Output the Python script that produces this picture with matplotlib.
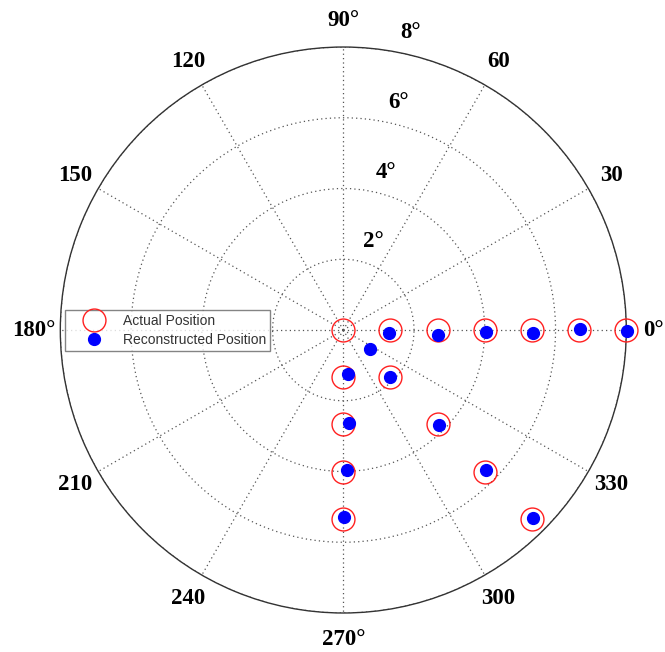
import numpy as np
import matplotlib
matplotlib.use("Agg")
import matplotlib.pyplot as plt
from matplotlib.transforms import offset_copy
from matplotlib.lines import Line2D

# Actual target positions (x, y in degrees of visual field)
act_x = [0.0, 1.333, 2.667, 4.0, 5.333, 6.667, 8.0,
         0.0, 0.0, 0.0, 0.0,
         1.333, 2.667, 4.0, 5.333]
act_y = [0.0, 0.0, 0.0, 0.0, 0.0, 0.0, 0.0,
         -1.333, -2.667, -4.0, -5.333,
         -1.333, -2.667, -4.0, -5.333]

# Reconstructed positions (x, y in degrees)
rec_x = [0.755, 1.30, 2.685, 4.025, 5.354, 6.69, 8.01,
         0.141, 0.153, 0.113, 0.02,
         1.32, 2.705, 4.025, 5.371]
rec_y = [-0.546, -0.076, -0.127, -0.048, -0.076, 0.02, -0.02,
         -1.244, -2.637, -3.958, -5.295,
         -1.32, -2.685, -3.958, -5.323]

theta_ticks = [0, 30, 60, 90, 120, 150, 180, 210, 240, 270, 300, 330]
theta_labels = ["0°", "30", "60", "90°", "120", "150", "180°", "210", "240", "270°", "300", "330"]
r_ticks = [2, 4, 6, 8]
r_labels = ["2°", "4°", "6°", "8°"]
r_max = 8

fig = plt.figure(figsize=(6.65, 6.52), dpi=100)
ax = fig.add_axes([0.0907, 0.0598, 0.8511, 0.8681], projection="polar")
ax.set_ylim(0, r_max)
ax.set_xticks(np.deg2rad(theta_ticks))
ax.set_yticks(r_ticks)
ax.set_xticklabels([])
ax.set_yticklabels([])
ax.tick_params(length=0)
ax.grid(True, linestyle=(0, (1, 2.5)), color="#555555", linewidth=0.9)
ax.spines["polar"].set_color("#333333")
ax.spines["polar"].set_linewidth(1.0)

serif = {"family": ["Liberation Serif", "DejaVu Serif"], "weight": "bold", "size": 16.5}
for t, lab in zip(theta_ticks, theta_labels):
    ax.text(np.deg2rad(t), r_max * 1.095, lab, ha="center", va="center",
            clip_on=False, **serif)

trans = offset_copy(ax.transData, fig=fig, x=18, y=18.5, units="dots")
for r, lab in zip(r_ticks, r_labels):
    ax.text(np.deg2rad(80), r, lab, ha="center", va="center", transform=trans,
            clip_on=False, **serif)

ax_ = np.array(act_x); ay_ = np.array(act_y)
rx_ = np.array(rec_x); ry_ = np.array(rec_y)
act_t = np.arctan2(ay_, ax_); act_r = np.hypot(ax_, ay_)
rec_t = np.arctan2(ry_, rx_); rec_r = np.hypot(rx_, ry_)

ax.plot(act_t, act_r, linestyle="none", marker="o", markersize=16.5,
        markerfacecolor="none", markeredgecolor="#ff2020", markeredgewidth=1.0,
        clip_on=False, zorder=3, label="Actual Position")
ax.plot(rec_t, rec_r, linestyle="none", marker="o", markersize=8.5,
        markerfacecolor="#0000ff", markeredgecolor="#0000ff",
        clip_on=False, zorder=4, label="Reconstructed Position")

handles = [
    Line2D([], [], linestyle="none", marker="o", markersize=16.5,
           markerfacecolor="none", markeredgecolor="#ff2020", markeredgewidth=1.0),
    Line2D([], [], linestyle="none", marker="o", markersize=8.5,
           markerfacecolor="#0000ff", markeredgecolor="#0000ff"),
]
leg = fig.legend(handles, ["Actual Position", "Reconstructed Position"],
                 loc="upper left", bbox_to_anchor=(65 / 665, 1 - 310 / 652),
                 prop={"family": ["Liberation Sans", "DejaVu Sans"], "size": 10},
                 frameon=True, fancybox=False, borderpad=0.3, labelspacing=0.35,
                 handlelength=3.6, handletextpad=0.27, borderaxespad=0.0)
leg.get_frame().set_edgecolor("#666666")
leg.get_frame().set_linewidth(1.0)
for txt in leg.get_texts():
    txt.set_color("#333333")

fig.savefig("out.png", dpi=100)
